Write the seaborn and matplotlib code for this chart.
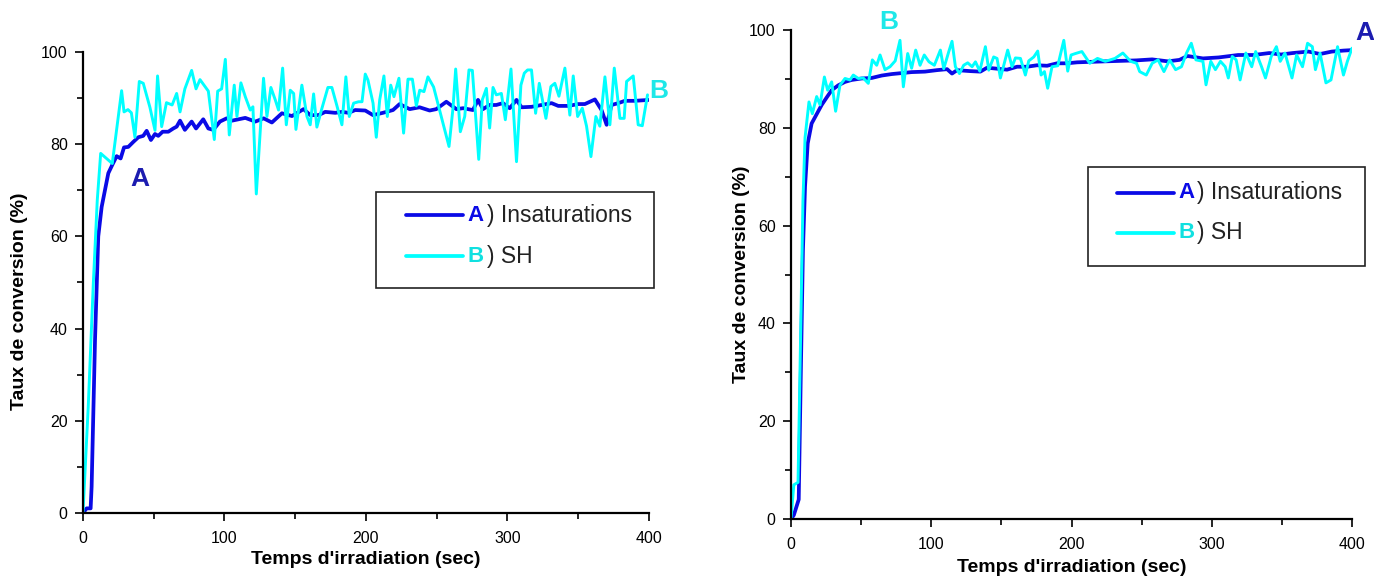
import numpy as np
import pandas as pd
import seaborn as sns
import matplotlib.pyplot as plt
from matplotlib.patches import Rectangle
from matplotlib.ticker import MultipleLocator

# --- left panel: A) Insaturations (blue) and B) SH (cyan) ---
left_a_t = [0, 2.6, 5.4, 6.1, 8.5, 10.8, 13.2, 17.9, 20.7, 23.8, 26.6, 29, 32, 35.6, 39.1, 42.6, 45, 48,
            50.9, 53.2, 56.3, 60.3, 63.8, 66.2, 68.6, 72, 76.8, 79.9, 85, 88.6, 92.1, 96.8, 101.5, 105.3,
            110, 114.7, 121.8, 127.7, 133.5, 140.6, 147.7, 155.9, 160.6, 166.5, 171.2, 178.3, 183, 187.7,
            192.4, 199.5, 205, 212, 219.1, 223.8, 230.9, 237.9, 245, 249.7, 256.8, 263.9, 268.6, 275.6,
            279.2, 282.7, 287.4, 292.1, 296.8, 301.6, 306.4, 310, 317, 324.1, 331.2, 335.9, 343, 350,
            354.7, 361.8, 366.5, 370.1, 373.6, 378.3, 383, 390.1, 400]
left_a_v = [0, 1, 1, 5.7, 37.5, 60, 66.4, 73.7, 75.5, 77.4, 76.9, 79.3, 79.4, 80.5, 81.5, 81.8, 82.9, 80.9,
            82.2, 81.8, 82.7, 82.7, 83.4, 83.8, 85.1, 83.1, 84.9, 83.4, 85.4, 83.4, 83.1, 84.9, 85.6, 85.1,
            85.4, 85.7, 84.9, 85.6, 84.7, 86.7, 86.1, 87.6, 86.3, 86.3, 87, 86.8, 87, 86.8,
            87.4, 87.3, 86.3, 86.8, 87.4, 88.7, 87.6, 88, 87.3, 87.6, 89.2, 87.6, 87.8, 87.4,
            89.6, 87.6, 88.5, 88.5, 88.9, 87.8, 89.6, 88, 88.1, 88.5, 88.9, 88.3, 88.3, 88.7,
            88.7, 89.7, 87.4, 84.2, 88.5, 88.9, 89.4, 89.4, 89.6]

left_b_t = [0, 3.7, 7.3, 10.1, 12.5, 20.7, 27.3, 29, 31.8, 34.2, 36.7, 39.8, 42.6, 47.3, 50.9, 52.7, 55.6,
            59, 63, 66.2, 68.6, 72, 76.8, 79.9, 82.7, 88.6, 92.8, 95.2, 98, 100.6, 103.4, 106.9, 108.8,
            111.6, 114.7, 118.2, 120.1, 122.5, 127.6, 130, 132.8, 135.9, 138.2, 141.1, 143.7, 146.5,
            148.9, 150.5, 154.7, 158.3, 160.6, 163, 165.3, 168.9, 173.1, 175.9, 179.5, 183, 185.8,
            188.2, 191.3, 194.8, 197.2, 199.5, 201.4, 205, 207.3, 209.7, 212.7, 215.1, 217.5, 219.8,
            223.3, 226.6, 229.7, 232.8, 235.6, 238, 241, 243.8, 247.8, 252.6, 255.6, 258.7, 261.5,
            263.4, 266.7, 269.8, 272.8, 275.2, 279.7, 282.2, 285.1, 287.4, 289.8, 292.1, 295.7, 298.5,
            302.5, 306.4, 309.5, 311.9, 314.2, 317, 319.9, 322.5, 327.2, 330.7, 333.5, 336.4, 340.6,
            344.1, 346.5, 349.6, 352.9, 355.9, 359, 362.5, 365.3, 368.9, 372.4, 375.5, 379.5, 382.5,
            384.2, 388.9, 392.4, 395.3, 399]
left_b_v = [0, 23, 49.8, 67.9, 78, 75.8, 91.6, 87, 87.5, 86.8, 81.5, 93.6, 93.2, 88, 83, 94.8, 83.8,
            89, 88.5, 91, 87, 92, 96, 92, 94, 91.5, 81, 91.5, 92, 98.4, 82, 92.8, 86,
            93.3, 90.3, 87.4, 88.1, 69.2, 94.3, 86, 92.3, 89.6, 87.4, 96.5, 84.2, 91.7,
            91, 83.2, 92.8, 86, 84.2, 90.9, 83.7, 87.8, 92.3, 92.3, 88.3, 84.2, 94.6,
            86, 88.9, 89.2, 89.2, 95.2, 93.9, 88.9, 81.5, 89.6, 94.8, 86, 92.8, 90.3,
            94.3, 82.4, 94.1, 94.1, 88.3, 91.7, 91.4, 94.6, 92.4, 86.7, 83.1, 79.5, 87.8,
            96.3, 82.7, 86, 96.1, 96, 76.7, 89.6, 92.1, 83.5, 92.3, 90.7, 91, 85.3,
            96.3, 76.2, 92.8, 95.4, 96.1, 96.1, 86.7, 93.2, 85.6, 92.5, 93.2, 90.4, 96.5,
            86.3, 94.8, 86, 87.8, 83.9, 77.3, 86, 83.9, 94.6, 84.2, 96.5, 85.6, 85.6,
            93.6, 94.8, 84.2, 84, 90.7]

# --- right panel ---
right_a_t = [0, 2, 5.5, 7, 8.5, 10, 11.9, 14.7, 18.3, 21.9, 25.4, 29, 33.7, 38.5, 43.3, 50.4, 57.5, 64.7,
             71.8, 78.9, 86, 95.5, 104, 111.3, 114.8, 118.4, 127.9, 135, 139.8, 146.9, 154, 161.2,
             168.3, 175.4, 182.6, 189.7, 196.8, 204, 224.1, 246.4, 257.5, 268.7, 277, 282.6, 293.7,
             304.9, 318.8, 329.9, 341, 349.4, 357.7, 368.9, 377.2, 385.6, 393.9, 400]
right_a_v = [0, 0.8, 4, 30, 55, 68, 76.8, 80.9, 82.8, 84.7, 86.2, 87.7, 88.7, 89.4, 89.8, 90.1, 90.2, 90.7,
             91, 91.2, 91.4, 91.5, 91.8, 92, 91.1, 91.8, 91.6, 91.5, 92.3, 92.1, 91.9, 92.5,
             92.5, 92.8, 92.7, 93.2, 93.2, 93.4, 93.6, 93.8, 94, 93.6, 93.9, 94.7, 94.2,
             94.4, 94.9, 94.9, 95.3, 95, 95.3, 95.6, 95.1, 95.6, 95.8, 95.9]

right_b_t = [0, 2, 5, 7, 8.5, 10, 12.8, 15.2, 18.3, 20.7, 23.8, 26.1, 29, 31.8, 34.9, 38.5, 42.1, 44.4,
             48, 51.5, 55.1, 58, 61.1, 63.5, 67, 70.6, 74.3, 77.7, 80.1, 83.2, 86, 88.9, 92, 95, 98.4,
             102.2, 106.5, 108.9, 112.5, 114.8, 117.2, 120.1, 123.1, 126, 129.1, 131.5, 134.6, 138.6,
             141, 144.5, 146.9, 149.3, 151.7, 154.5, 157.6, 160, 163.6, 167.1, 169.5, 173.1, 175.9,
             178.3, 180.7, 183, 186.1, 190.2, 194.5, 197.3, 199.7, 202.8, 207.4, 213, 218.5, 224.1,
             231, 236.6, 242.2, 246.4, 248.6, 253.3, 257.5, 261.7, 265.9, 270, 274.2, 278.4, 282,
             285.4, 288.7, 293.7, 295.9, 299.3, 302.6, 306.2, 309.6, 311.8, 314.6, 317.4, 320.2,
             324.3, 328.5, 331.3, 335.5, 338.3, 342.4, 346.1, 348.8, 352.2, 357.2, 360.5, 364.7,
             368.3, 371.7, 373.9, 377.2, 381.4, 385, 389.7, 393.9, 396.7, 400]
right_b_v = [0, 7, 7.5, 40, 65, 78, 85.3, 82.9, 86.4, 84.7, 90.4, 87.7, 89.4, 83.4, 88.7, 90.1, 89.8, 90.8,
             90.1, 90.2, 89.1, 93.9, 92.8, 94.9, 91.9, 92.5, 93.7, 97.9, 88.4, 95.2, 92.2, 95.9, 92.8, 94.9, 93.5,
             92.8, 95.9, 92.1, 95.6, 97.7, 92.5, 91.1, 92.8, 93.3, 92.5, 93.5, 91.6, 96.6,
             91.8, 94.5, 94.2, 90.2, 92.8, 95.9, 92.5, 94.3, 94.2, 90.8, 93.7, 94.5, 95.7,
             90.8, 91.5, 88.1, 92.5, 92.7, 97.9, 91.6, 94.9, 95.2, 95.6, 93.2, 94.2, 93.6,
             94.2, 95.3, 93.6, 93.2, 91.5, 90.8, 93.2, 93.9, 91.5, 93.9, 91.9, 92.5, 95.3,
             97.3, 93.9, 93.6, 88.8, 93.6, 91.9, 93.6, 92.5, 90.2, 94.6, 93.9, 89.8,
             95.3, 92.5, 95.6, 92.5, 90.2, 94.6, 96.6, 93.6, 95.3, 90.2, 94.9, 92.5,
             97.3, 96.6, 91.9, 95.3, 89.2, 89.8, 96.6, 90.8, 93.6, 96.3]

x_ticks = [0, 100, 200, 300, 400]
y_ticks = [0, 20, 40, 60, 80, 100]
legend_labels = [") Insaturations", ") SH"]
legend_letters = ["A", "B"]

BLUE = "#0a0ae6"
CYAN = "#00ffff"
LABEL_BLUE = "#1c1cb0"
LABEL_CYAN = "#1ee8e8"

sns.set_style("ticks")
plt.rcParams["font.family"] = ["Liberation Sans", "DejaVu Sans"]

fig = plt.figure(figsize=(13.74, 5.78), dpi=100)
ax1 = fig.add_axes([0.0604, 0.1125, 0.4119, 0.7976])
ax2 = fig.add_axes([0.5757, 0.1020, 0.4083, 0.8460])


def draw_panel(ax, ta, va, tb, vb, box, line_y, letters_pos):
    sns.lineplot(x=ta, y=va, ax=ax, color=BLUE, lw=2.7, sort=False, legend=False)
    sns.lineplot(x=tb, y=vb, ax=ax, color=CYAN, lw=2.1, sort=False, legend=False)
    ax.set_xlim(0, 400)
    ax.set_ylim(0, 100)
    ax.set_xticks(x_ticks)
    ax.set_yticks(y_ticks)
    ax.xaxis.set_minor_locator(MultipleLocator(50))
    ax.yaxis.set_minor_locator(MultipleLocator(10))
    ax.tick_params(which="major", length=6, width=1.2, labelsize=11.5,
                   colors="black", labelcolor="black")
    ax.tick_params(axis="x", which="major", pad=7)
    ax.tick_params(axis="y", which="major", pad=5)
    ax.tick_params(which="minor", length=4, width=1.2, colors="black")
    for s in ["top", "right"]:
        ax.spines[s].set_visible(False)
    for s in ["left", "bottom"]:
        ax.spines[s].set_linewidth(1.6)
        ax.spines[s].set_color("black")
    ax.set_xlabel("Temps d'irradiation (sec)", fontsize=14, fontweight="bold",
                  color="black", labelpad=4)
    ax.set_ylabel("Taux de conversion (%)", fontsize=14, fontweight="bold", color="black")

    # legend box
    bx, by, bw, bh = box
    ax.add_patch(Rectangle((bx, by), bw, bh, transform=ax.transAxes, fill=False,
                           edgecolor="#222222", lw=1.2, clip_on=False))
    hx0, hx1 = bx + 0.052, bx + 0.153
    for yy, col, letter, lab in zip(line_y, [BLUE, CYAN], legend_letters, legend_labels):
        ax.plot([hx0, hx1], [yy, yy], color=col, lw=2.7, transform=ax.transAxes, clip_on=False)
        ax.text(hx1 + 0.008, yy, letter, color=col if col == BLUE else "#10e0e0",
                fontsize=16, fontweight="bold", va="center", transform=ax.transAxes)
        ax.text(hx1 + 0.042, yy, lab, color="#222222", fontsize=16.5, va="center",
                transform=ax.transAxes)

    # curve labels
    for (tx, ty, letter, col) in letters_pos:
        ax.text(tx, ty, letter, color=col, fontsize=19, fontweight="bold",
                ha="center", va="center", clip_on=False)


draw_panel(ax1, left_a_t, left_a_v, left_b_t, left_b_v,
           box=(0.518, 0.488, 0.491, 0.208), line_y=(0.646, 0.557),
           letters_pos=[(40.3, 72.5, "A", LABEL_BLUE), (407, 91.5, "B", LABEL_CYAN)])
draw_panel(ax2, right_a_t, right_a_v, right_b_t, right_b_v,
           box=(0.529, 0.517, 0.494, 0.203), line_y=(0.667, 0.585),
           letters_pos=[(69.9, 101.7, "B", LABEL_CYAN), (409, 99.5, "A", LABEL_BLUE)])

ax1.yaxis.set_label_coords(-0.097, 0.46)
ax2.yaxis.set_label_coords(-0.073, 0.50)
ax1.xaxis.set_label_coords(0.5, -0.082)
ax2.xaxis.set_label_coords(0.5, -0.082)

fig.savefig("out.png", dpi=100)
